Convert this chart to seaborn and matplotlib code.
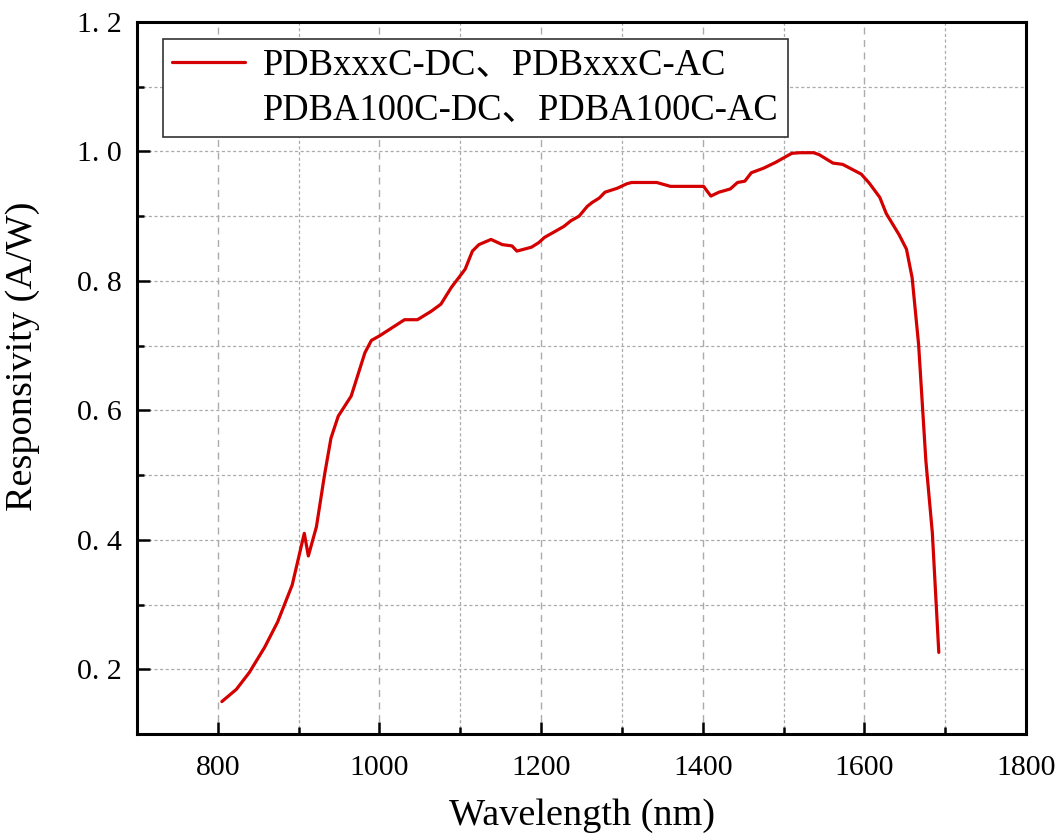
import matplotlib
matplotlib.use("Agg")
import matplotlib.pyplot as plt
from matplotlib.ticker import MultipleLocator, FuncFormatter
from matplotlib.lines import Line2D
import seaborn as sns
import numpy as np
import pandas as pd

# values
wavelength = [805, 823, 839, 858, 874, 892, 907, 912, 922, 932, 940, 949,
              965, 982, 990, 1000, 1031, 1047, 1064, 1076, 1089, 1106, 1115,
              1123, 1138, 1152, 1164, 1170, 1188, 1197, 1204, 1228, 1237,
              1247, 1257, 1263, 1272, 1279, 1294, 1306, 1312, 1343, 1360,
              1401, 1410, 1420, 1434, 1443, 1452, 1460, 1475, 1490, 1510,
              1520, 1537, 1544, 1561, 1573, 1596, 1606, 1619, 1627, 1643,
              1652, 1659, 1667, 1676, 1684, 1692]
responsivity = [0.150, 0.169, 0.195, 0.234, 0.273, 0.330, 0.410, 0.375,
                0.420, 0.500, 0.557, 0.591, 0.622, 0.689, 0.708, 0.715,
                0.740, 0.740, 0.753, 0.764, 0.790, 0.818, 0.846, 0.856,
                0.864, 0.856, 0.854, 0.846, 0.852, 0.859, 0.867, 0.884,
                0.893, 0.900, 0.915, 0.921, 0.928, 0.937, 0.943, 0.950,
                0.952, 0.952, 0.946, 0.946, 0.931, 0.937, 0.942, 0.952,
                0.954, 0.967, 0.974, 0.983, 0.997, 0.998, 0.998, 0.995,
                0.982, 0.980, 0.965, 0.951, 0.929, 0.904, 0.871, 0.849,
                0.805, 0.702, 0.522, 0.411, 0.226]

legend_rows = ["PDBxxxC-DC、PDBxxxC-AC", "PDBA100C-DC、PDBA100C-AC"]
xlabel = "Wavelength (nm)"
ylabel = "Responsivity (A/W)"

sns.set_style("ticks")
plt.rcParams['font.family'] = ['Liberation Serif', 'Noto Sans CJK SC']
plt.rcParams['text.color'] = 'black'
plt.rcParams['axes.labelcolor'] = 'black'

data = pd.DataFrame({"Wavelength": wavelength, "Responsivity": responsivity})

fig = plt.figure(figsize=(10.61, 8.35), dpi=100)
ax = fig.add_axes([0.1291, 0.121, 0.838, 0.8527])

sns.lineplot(data=data, x="Wavelength", y="Responsivity", ax=ax,
             color="#d40000", linewidth=2.3, estimator=None, legend=False)

ax.set_xlim(700, 1800)
ax.set_ylim(0.1, 1.2)
ax.xaxis.set_major_locator(MultipleLocator(200))
ax.xaxis.set_minor_locator(MultipleLocator(100))
ax.yaxis.set_major_locator(MultipleLocator(0.2))
ax.yaxis.set_minor_locator(MultipleLocator(0.1))
ax.yaxis.set_major_formatter(FuncFormatter(lambda v, p: f"{v:.1f}".replace(".", ". ")))

gcol = "#ababab"
ax.xaxis.grid(True, which="major", color=gcol, linewidth=1.0, linestyle=(0, (5, 4)))
ax.xaxis.grid(True, which="minor", color=gcol, linewidth=0.9, linestyle=(0, (2.5, 2)))
ax.yaxis.grid(True, which="both", color=gcol, linewidth=0.9, linestyle=(0, (2.5, 2)))
ax.set_axisbelow(True)

for s in ax.spines.values():
    s.set_linewidth(2.2)
    s.set_color("black")
    s.set_visible(True)

ax.tick_params(which="major", direction="in", length=9, width=1.8,
               labelsize=21.5, colors="black")
ax.tick_params(axis="x", which="major", pad=15)
ax.tick_params(axis="y", which="major", pad=11)
ax.tick_params(which="minor", direction="in", length=5, width=1.8, colors="black")
ax.tick_params(top=False, right=False, which="both")

ax.set_xlabel(xlabel, fontsize=27.5, labelpad=13, color="black")
ax.set_ylabel(ylabel, fontsize=27.5, color="black")
ax.yaxis.set_label_coords(-0.109, 0.53)

handles = [Line2D([], [], color="#d40000", linewidth=2.3),
           Line2D([], [], color="none")]
leg = ax.legend(handles, legend_rows, loc="upper left",
                bbox_to_anchor=(0.029, 0.976), fontsize=26.3, frameon=True,
                fancybox=False, edgecolor="#333333", framealpha=1,
                handlelength=2.0, handletextpad=0.5, borderpad=0.25,
                labelspacing=0.3, borderaxespad=0, labelcolor="black")
leg.get_frame().set_linewidth(1.2)

fig.savefig("out.png", dpi=100)
